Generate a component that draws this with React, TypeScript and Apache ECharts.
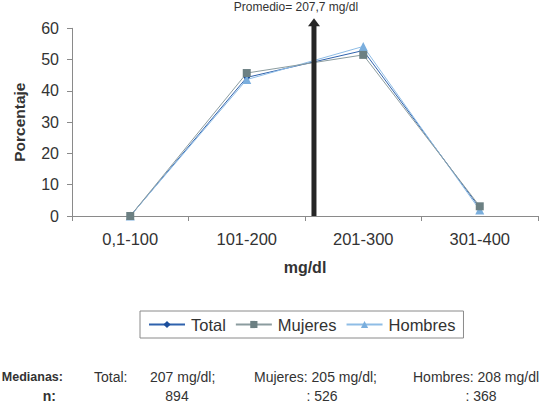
import React, { useEffect, useRef } from "react";
import * as echarts from "echarts";

const categories = ["0,1-100", "101-200", "201-300", "301-400"];
const totalValues = [0, 44.3, 52.9, 2.6];
const mujeresValues = [0, 45.7, 51.5, 3.1];
const hombresValues = [0, 43.6, 54.2, 1.9];
const yTicks = { min: 0, max: 60, interval: 10 };
const promedio = 207.7;
const promedioTop = 61.9;
const promedioLabel = "Promedio= 207,7 mg/dl";

const FONT = "'Liberation Sans', Arial, sans-serif";
const TXT = "#333333";

export default function App() {
  const ref = useRef<HTMLDivElement>(null);
  useEffect(() => {
    if (!ref.current) return;
    const chart = echarts.init(ref.current, null, { renderer: "svg" });
    const bottomText = (text: string, x: number, y: number, align: string, bold = false, size = 14) => ({
      type: "text",
      x,
      y,
      style: {
        text,
        fill: TXT,
        font: `${bold ? "bold " : ""}${size}px ${FONT}`,
        textAlign: align,
        textVerticalAlign: "middle",
      },
    });
    chart.setOption({
      animation: false,
      backgroundColor: "#ffffff",
      textStyle: { fontFamily: FONT, color: TXT },
      grid: { left: 72, right: 11, top: 28.3, bottom: 196, containLabel: false },
      xAxis: [
        {
          type: "category",
          data: categories,
          boundaryGap: true,
          axisLine: { lineStyle: { color: "#8a8a8a", width: 1 } },
          axisTick: { show: true, alignWithLabel: false, length: 5, lineStyle: { color: "#8a8a8a" } },
          axisLabel: { fontSize: 16.5, color: TXT, margin: 14, fontFamily: FONT },
          name: "mg/dl",
          nameLocation: "middle",
          nameGap: 43,
          nameTextStyle: { fontSize: 16, fontWeight: "bold", color: TXT, fontFamily: FONT },
          splitLine: { show: false },
        },
        {
          type: "value",
          min: 0,
          max: 400,
          show: false,
          position: "bottom",
        },
      ],
      yAxis: {
        type: "value",
        min: yTicks.min,
        max: yTicks.max,
        interval: yTicks.interval,
        axisLine: { show: true, lineStyle: { color: "#8a8a8a", width: 1 } },
        axisTick: { show: true, length: 5, lineStyle: { color: "#8a8a8a" } },
        axisLabel: { fontSize: 16, color: TXT, margin: 13, fontFamily: FONT },
        splitLine: { show: false },
        name: "Porcentaje",
        nameLocation: "middle",
        nameGap: 45,
        nameRotate: 90,
        nameTextStyle: { fontSize: 15.5, fontWeight: "bold", color: TXT, fontFamily: FONT },
      },
      legend: {
        data: ["Total", "Mujeres", "Hombres"],
        left: 140,
        top: 311,
        padding: [5, 8],
        itemGap: 9,
        itemWidth: 36,
        itemHeight: 9,
        borderColor: "#8a8a8a",
        borderWidth: 1,
        borderRadius: 0,
        textStyle: { fontSize: 16.5, color: TXT, fontFamily: FONT, padding: [0, 0, 0, 1] },
      },
      series: [
        {
          name: "Total",
          type: "line",
          data: totalValues,
          symbol: "diamond",
          symbolSize: 7,
          itemStyle: { color: "#1c4f9c" },
          lineStyle: { color: "#2f62ad", width: 1 },
          emphasis: { disabled: true },
          z: 3,
        },
        {
          name: "Mujeres",
          type: "line",
          data: mujeresValues,
          symbol: "rect",
          symbolSize: 8,
          itemStyle: { color: "#6c8083" },
          lineStyle: { color: "#8b9c9f", width: 1 },
          emphasis: { disabled: true },
          z: 4,
        },
        {
          name: "Hombres",
          type: "line",
          data: hombresValues,
          symbol: "triangle",
          symbolSize: 9,
          itemStyle: { color: "#7aaedd" },
          lineStyle: { color: "#8fbde6", width: 1 },
          emphasis: { disabled: true },
          z: 3,
        },
        {
          name: "promedio",
          type: "line",
          xAxisIndex: 1,
          clip: false,
          data: [
            { value: [promedio, 0], symbol: "none" },
            { value: [promedio, promedioTop], symbol: "triangle", symbolSize: [12, 8] },
          ],
          itemStyle: { color: "#262626" },
          lineStyle: { color: "#262626", width: 5 },
          emphasis: { disabled: true },
          z: 5,
        },
      ],
      graphic: [
        {
          type: "text",
          x: 296,
          y: 7,
          style: {
            text: promedioLabel,
            fill: TXT,
            font: `12px ${FONT}`,
            textAlign: "center",
            textVerticalAlign: "middle",
          },
        },
        bottomText("Medianas:", 63, 377, "right", true, 12.5),
        bottomText("n:", 56, 396, "right", true),
        bottomText("Total:", 94, 377, "left"),
        bottomText("207 mg/dl;", 150, 377, "left"),
        bottomText("894", 177, 396, "center"),
        bottomText("Mujeres: 205 mg/dl;", 254, 377, "left"),
        bottomText(": 526", 322, 396, "center"),
        bottomText("Hombres: 208 mg/dl", 413, 377, "left"),
        bottomText(": 368", 481, 396, "center"),
      ],
    });
    return () => chart.dispose();
  }, []);
  return (
    <div
      ref={ref}
      style={{ position: "fixed", left: 0, top: 0, width: 549, height: 412, background: "#fff" }}
    />
  );
}
